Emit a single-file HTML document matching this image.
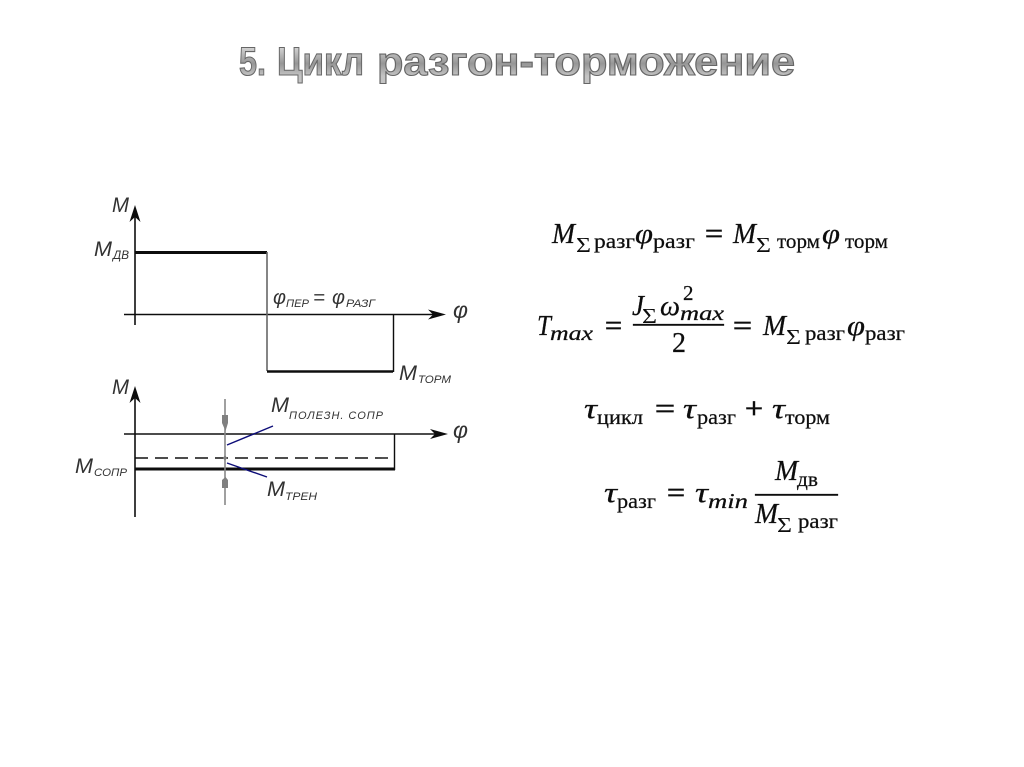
<!DOCTYPE html>
<html><head><meta charset="utf-8"><style>
html,body{margin:0;padding:0;background:#fff;width:1024px;height:767px;overflow:hidden}
svg{display:block}
.t{font-family:"Liberation Sans",sans-serif;font-weight:bold;font-size:40px}
.l{font-family:"Liberation Sans",sans-serif;font-style:italic;fill:#333}
.m{font-family:"Liberation Serif",serif;fill:#111;stroke:#111;stroke-width:.25}
.i{font-style:italic}
.b{font-size:28px}
.s{font-size:21px}
.e{font-size:21px;stroke-width:0}
.q{stroke-width:.7}
</style></head><body>
<svg width="1024" height="767" viewBox="0 0 1024 767" xmlns="http://www.w3.org/2000/svg">
<defs>
<linearGradient id="tg" gradientUnits="userSpaceOnUse" x1="0" y1="45" x2="0" y2="76"><stop offset="0" stop-color="#dcdcdc"/><stop offset=".6" stop-color="#969696"/><stop offset="1" stop-color="#c4c4c4"/></linearGradient>
<filter id="sf"><feGaussianBlur stdDeviation="0.35"/></filter>
<filter id="tf"><feGaussianBlur stdDeviation="0.3"/></filter>
</defs>
<rect width="1024" height="767" fill="#fff"/>
<g filter="url(#tf)" class="t" fill="url(#tg)" stroke="#666" stroke-width="1.100">
<text x="239" y="75" textLength="27" lengthAdjust="spacingAndGlyphs">5.</text>
<text x="277" y="75" textLength="87" lengthAdjust="spacingAndGlyphs">Цикл</text>
<text x="377" y="75" textLength="418" lengthAdjust="spacingAndGlyphs">разгон-торможение</text>
</g>

<g filter="url(#sf)">
<g fill="none" stroke="#111">
<path d="M135 212V325" stroke-width="1.6"/>
<path d="M124 314.5H438" stroke-width="1.4"/>
<path d="M135 252.5H267" stroke-width="3"/>
<path d="M267 252V371" stroke="#666" stroke-width="1.6"/>
<path d="M267 371.500H393" stroke-width="2.400"/>
<path d="M393.500 315V372" stroke-width="1.400"/>
<path d="M135 392V517" stroke-width="1.600"/>
<path d="M124 434H440" stroke-width="1.400"/>
<path d="M394.500 434V470" stroke-width="1.400"/>
<path d="M135 458H394" stroke-width="1.400" stroke-dasharray="13 7"/>
<path d="M135 469H395" stroke-width="3"/>
<path d="M225 399V505" stroke="#888" stroke-width="1.600"/>
<path d="M227 445L273 426M227 463L267 477" stroke="#0c0c78" stroke-width="1.400"/>
</g>
<g fill="#111">
<path d="M135 205L129.500 222L135 217L140.500 222Z"/>
<path d="M446 314.500L428 309.500L433 314.500L428 319.500Z"/>
<path d="M135 386L129.500 403L135 398L140.500 403Z"/>
<path d="M448 434L430 429L435 434L430 439Z"/>
</g>
<g fill="#808080">
<path d="M222 415H228V423L225.500 431L222 423Z"/>
<path d="M222 488H228V480L225.500 477L222 480Z"/>
<path d="M223 458L225 455L227 458L225 461Z"/>
</g>
<g class="l">
<text x="112" y="212" font-size="21" textLength="17" lengthAdjust="spacingAndGlyphs">M</text>
<text x="94" y="256" font-size="21" textLength="18" lengthAdjust="spacingAndGlyphs">M</text>
<text x="113" y="259" font-size="11.500" textLength="16" lengthAdjust="spacingAndGlyphs">ДВ</text>
<text x="273" y="304" font-size="20" textLength="13" lengthAdjust="spacingAndGlyphs">φ</text>
<text x="286" y="307" font-size="11" textLength="23" lengthAdjust="spacingAndGlyphs">ПЕР</text>
<text x="313" y="304" font-size="19" textLength="12" lengthAdjust="spacingAndGlyphs">=</text>
<text x="332" y="304" font-size="20" textLength="13" lengthAdjust="spacingAndGlyphs">φ</text>
<text x="346" y="307" font-size="11" textLength="29" lengthAdjust="spacingAndGlyphs">РАЗГ</text>
<text x="453" y="318" font-size="23" textLength="15" lengthAdjust="spacingAndGlyphs">φ</text>
<text x="399" y="380" font-size="21" textLength="18" lengthAdjust="spacingAndGlyphs">M</text>
<text x="418" y="383" font-size="11" textLength="33" lengthAdjust="spacingAndGlyphs">ТОРМ</text>
<text x="112" y="394" font-size="21" textLength="17" lengthAdjust="spacingAndGlyphs">M</text>
<text x="271" y="412" font-size="21" textLength="18" lengthAdjust="spacingAndGlyphs">M</text>
<text x="289" y="419" font-size="11" textLength="94" lengthAdjust="spacing">ПОЛЕЗН. СОПР</text>
<text x="453" y="438" font-size="23" textLength="15" lengthAdjust="spacingAndGlyphs">φ</text>
<text x="75" y="473" font-size="21" textLength="18" lengthAdjust="spacingAndGlyphs">M</text>
<text x="94" y="476" font-size="11" textLength="33" lengthAdjust="spacingAndGlyphs">СОПР</text>
<text x="267" y="496" font-size="21" textLength="18" lengthAdjust="spacingAndGlyphs">M</text>
<text x="285" y="500" font-size="11" textLength="32" lengthAdjust="spacingAndGlyphs">ТРЕН</text>
</g>
</g>

<g class="m" filter="url(#tf)">
<!-- eq 1 -->
<text x="552" y="243" class="b i" textLength="23" lengthAdjust="spacingAndGlyphs">M</text>
<text x="576" y="252" class="e" textLength="15" lengthAdjust="spacingAndGlyphs">Σ</text>
<text x="594" y="248" class="s" textLength="41" lengthAdjust="spacingAndGlyphs">разг</text>
<text x="635" y="243" class="b i" textLength="18" lengthAdjust="spacingAndGlyphs">φ</text>
<text x="653" y="248" class="s" textLength="42" lengthAdjust="spacingAndGlyphs">разг</text>
<text x="705" y="243" class="b q" textLength="18" lengthAdjust="spacingAndGlyphs">=</text>
<text x="733" y="243" class="b i" textLength="23" lengthAdjust="spacingAndGlyphs">M</text>
<text x="756" y="252" class="e" textLength="15" lengthAdjust="spacingAndGlyphs">Σ</text>
<text x="777" y="248" class="s" textLength="43" lengthAdjust="spacingAndGlyphs">торм</text>
<text x="822" y="243" class="b i" textLength="18" lengthAdjust="spacingAndGlyphs">φ</text>
<text x="845" y="248" class="s" textLength="43" lengthAdjust="spacingAndGlyphs">торм</text>
<!-- eq 2 -->
<text x="537" y="335" class="b i" textLength="14" lengthAdjust="spacingAndGlyphs">T</text>
<text x="550" y="340" class="s i" textLength="43" lengthAdjust="spacingAndGlyphs">max</text>
<text x="605" y="335" class="b q" textLength="17" lengthAdjust="spacingAndGlyphs">=</text>
<rect x="633" y="324" width="91" height="1.600" fill="#111"/>
<text x="632" y="315" class="b i" textLength="12" lengthAdjust="spacingAndGlyphs">J</text>
<text x="642" y="323" class="e" textLength="15" lengthAdjust="spacingAndGlyphs">Σ</text>
<text x="660" y="315" class="b i" textLength="20" lengthAdjust="spacingAndGlyphs">ω</text>
<text x="680" y="320" class="s i" textLength="44" lengthAdjust="spacingAndGlyphs">max</text>
<text x="683" y="300" class="s">2</text>
<text x="672" y="352" class="b">2</text>
<text x="733" y="335" class="b q" textLength="19" lengthAdjust="spacingAndGlyphs">=</text>
<text x="763" y="335" class="b i" textLength="23" lengthAdjust="spacingAndGlyphs">M</text>
<text x="786" y="344" class="e" textLength="15" lengthAdjust="spacingAndGlyphs">Σ</text>
<text x="805" y="340" class="s" textLength="40" lengthAdjust="spacingAndGlyphs">разг</text>
<text x="847" y="335" class="b i" textLength="18" lengthAdjust="spacingAndGlyphs">φ</text>
<text x="865" y="340" class="s" textLength="40" lengthAdjust="spacingAndGlyphs">разг</text>
<!-- eq 3 -->
<text x="584" y="418" class="b i" textLength="13" lengthAdjust="spacingAndGlyphs">τ</text>
<text x="597" y="424" class="s" textLength="46" lengthAdjust="spacingAndGlyphs">цикл</text>
<text x="655" y="418" class="b q" textLength="20" lengthAdjust="spacingAndGlyphs">=</text>
<text x="683" y="418" class="b i" textLength="13" lengthAdjust="spacingAndGlyphs">τ</text>
<text x="697" y="424" class="s" textLength="39" lengthAdjust="spacingAndGlyphs">разг</text>
<text x="745" y="418" class="b q" textLength="18" lengthAdjust="spacingAndGlyphs">+</text>
<text x="772" y="418" class="b i" textLength="13" lengthAdjust="spacingAndGlyphs">τ</text>
<text x="785" y="424" class="s" textLength="45" lengthAdjust="spacingAndGlyphs">торм</text>
<!-- eq 4 -->
<text x="604" y="502" class="b i" textLength="13" lengthAdjust="spacingAndGlyphs">τ</text>
<text x="617" y="508" class="s" textLength="39" lengthAdjust="spacingAndGlyphs">разг</text>
<text x="667" y="502" class="b q" textLength="18" lengthAdjust="spacingAndGlyphs">=</text>
<text x="695" y="502" class="b i" textLength="13" lengthAdjust="spacingAndGlyphs">τ</text>
<text x="708" y="508" class="s i" textLength="40" lengthAdjust="spacingAndGlyphs">min</text>
<rect x="755" y="494" width="83" height="1.600" fill="#111"/>
<text x="775" y="480" class="b i" textLength="23" lengthAdjust="spacingAndGlyphs">M</text>
<text x="797" y="486" class="s" textLength="21" lengthAdjust="spacingAndGlyphs">дв</text>
<text x="755" y="523" class="b i" textLength="23" lengthAdjust="spacingAndGlyphs">M</text>
<text x="777" y="532" class="e" textLength="15" lengthAdjust="spacingAndGlyphs">Σ</text>
<text x="798" y="528" class="s" textLength="40" lengthAdjust="spacingAndGlyphs">разг</text>
</g>
</svg>
</body></html>
